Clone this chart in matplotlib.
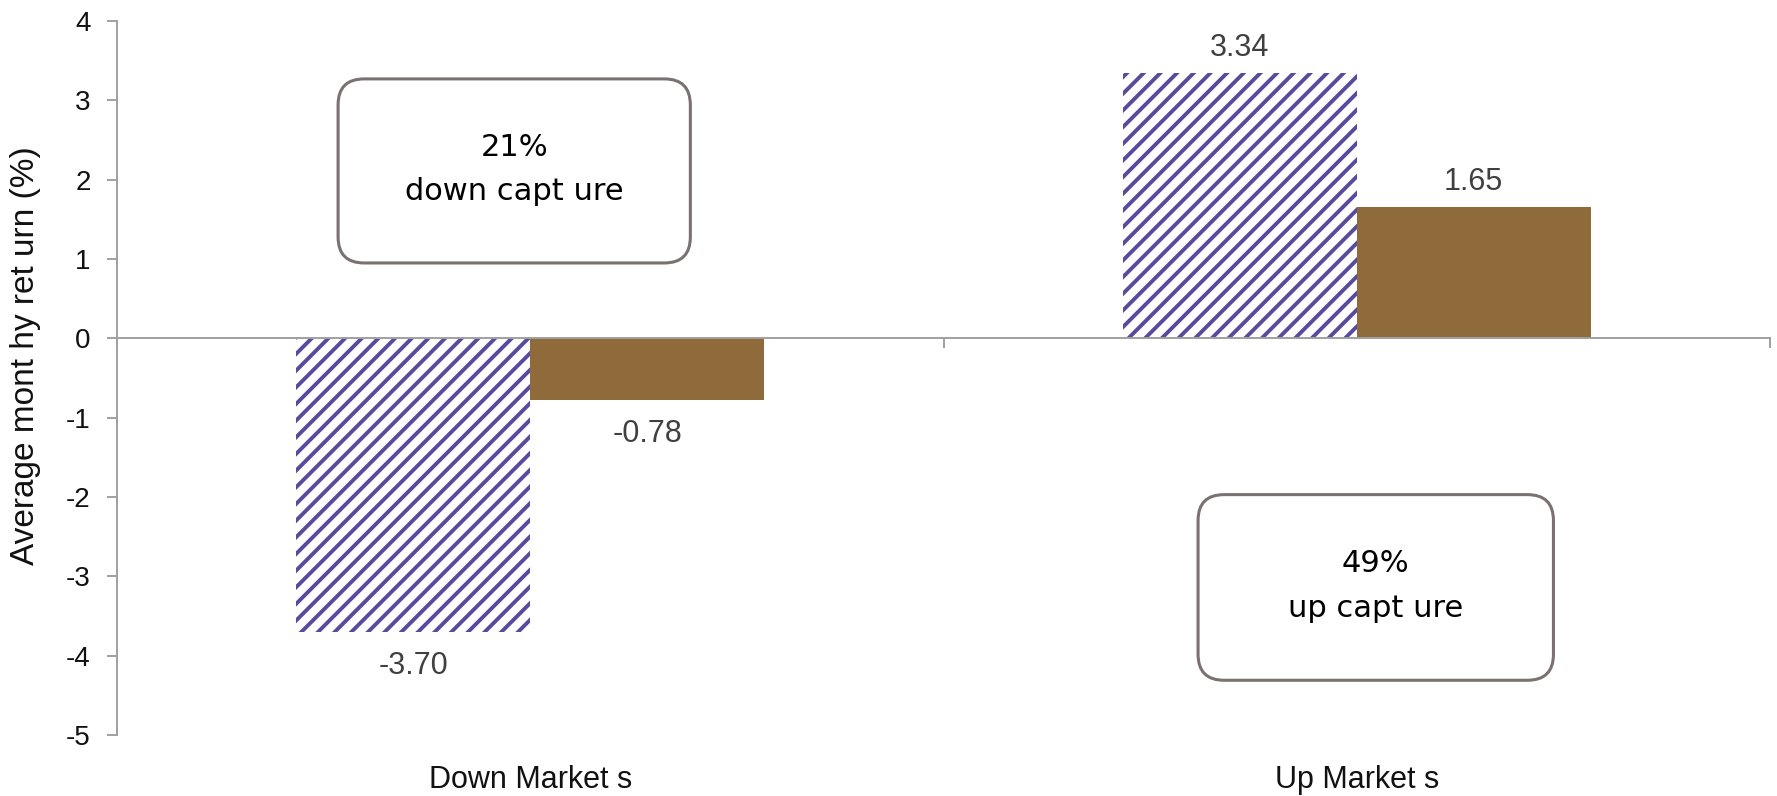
import matplotlib
matplotlib.use("Agg")
import matplotlib.pyplot as plt
from matplotlib.patches import FancyBboxPatch
import numpy as np

# --- data ---
categories = ["Down Market s", "Up Market s"]
benchmark = [-3.70, 3.34]      # hatched series
fund = [-0.78, 1.65]           # solid series
box_titles = ["21%", "49%"]
box_captions = ["down capt ure", "up capt ure"]
y_ticks = [4, 3, 2, 1, 0, -1, -2, -3, -4, -5]

plt.rcParams["font.family"] = ["Liberation Sans", "DejaVu Sans"]
plt.rcParams["hatch.linewidth"] = 2.8

W, H, DPI = 1777, 796, 100
fig = plt.figure(figsize=(W / DPI, H / DPI), dpi=DPI)
ax_left, ax_right = 117 / W, 1770 / W
ax_bottom, ax_top = (H - 735) / H, (H - 21) / H
ax = fig.add_axes([ax_left, ax_bottom, ax_right - ax_left, ax_top - ax_bottom])

purple = "#5A4A9E"
brown = "#8F6B3B"
axis_gray = "#A0A0A0"

x = np.arange(len(categories))
bw = 0.283
ax.bar(x - bw / 2, benchmark, bw, facecolor="white", edgecolor=purple,
       hatch="//", linewidth=0, zorder=2)
ax.bar(x + bw / 2, fund, bw, color=brown, linewidth=0, zorder=2)

# value labels
for xs, vals in ((x - bw / 2, benchmark), (x + bw / 2, fund)):
    for xi, v in zip(xs, vals):
        off = 18.5 if v >= 0 else -24.5
        ax.annotate(f"{v:.2f}", (xi, v), xytext=(0, off), textcoords="offset points",
                    ha="center", va="center", fontsize=22, color="#404040")

ax.set_xlim(-0.5, len(categories) - 0.5)
ax.set_ylim(-5, 4)

# axes styling
for s in ("top", "right"):
    ax.spines[s].set_visible(False)
ax.spines["left"].set_color(axis_gray)
ax.spines["left"].set_linewidth(1.4)
ax.spines["bottom"].set_position(("data", 0))
ax.spines["bottom"].set_color(axis_gray)
ax.spines["bottom"].set_linewidth(1.4)

ax.set_yticks(y_ticks)
ax.set_yticklabels([str(t) for t in y_ticks])
ax.tick_params(axis="y", direction="out", length=7, width=1.4, color=axis_gray,
               labelsize=20, pad=12, labelcolor="#111111")
ax.set_xticks([-0.5, 0.5, 1.5])
ax.set_xticklabels([])
ax.tick_params(axis="x", direction="out", length=7, width=1.4, color=axis_gray)

ax.set_ylabel("Average mont hy ret urn (%)", fontsize=24, color="#111111", va="center")
ax.yaxis.set_label_coords(-0.0555, 0.531)

# category labels below the plot
for xi, name in zip(x, categories):
    ax.text(xi, -5.57, name, ha="center", va="center", fontsize=22,
            color="#111111", clip_on=False)

# callout boxes with rounded corners
px_per_x = (ax_right - ax_left) * W / len(categories)
px_per_y = (ax_top - ax_bottom) * H / 9.0
aspect = px_per_x / px_per_y
radius_px = 26
boxes = [((-0.2325, 0.95), (0.1937, 3.27), 2.295, 1.74),
         ((0.808, -4.31), (1.238, -1.97), -2.947, -3.514)]

for i, ((x0, y0), (x1, y1), ty1, ty2) in enumerate(boxes):
    patch = FancyBboxPatch((x0, y0), x1 - x0, y1 - y0,
                           boxstyle=f"round,pad=0,rounding_size={radius_px / px_per_x}",
                           mutation_aspect=aspect, facecolor="white",
                           edgecolor="#7A7171", linewidth=2.2, zorder=3)
    ax.add_patch(patch)
    cx = (x0 + x1) / 2
    ax.text(cx, ty1, box_titles[i], ha="center", va="baseline", fontsize=22,
            family="DejaVu Sans", color="black", zorder=4)
    ax.text(cx, ty2, box_captions[i], ha="center", va="baseline", fontsize=22,
            family="DejaVu Sans", color="black", zorder=4)

fig.savefig("out.png", dpi=DPI)
